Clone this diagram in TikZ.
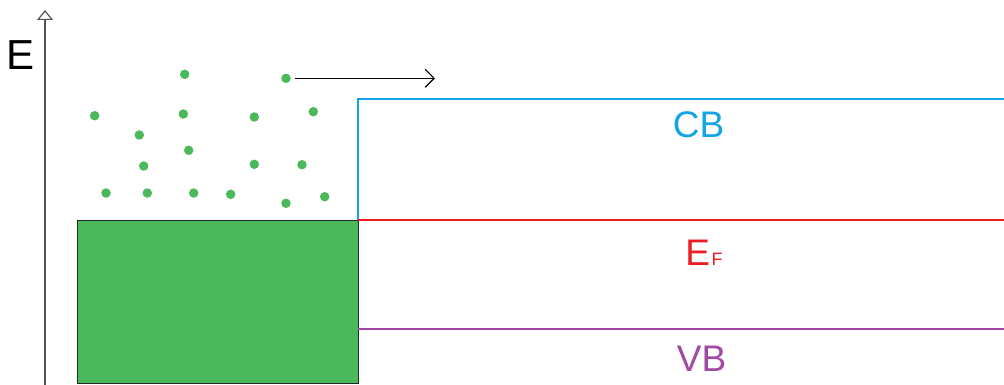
\documentclass[tikz,border=0pt]{standalone}
\usepackage{fontspec}
\setmainfont{Liberation Sans}
\definecolor{cbc}{HTML}{12A4E6}
\definecolor{efc}{HTML}{ED1C24}
\definecolor{vbc}{HTML}{A349A4}
\definecolor{grn}{HTML}{4CB85C}
\definecolor{axc}{HTML}{555555}
\usetikzlibrary{arrows.meta,positioning}
\tikzset{
  >={Straight Barb[length=9pt,width=18pt,line width=1.2pt]},
  elec/.style={circle,fill=grn,draw=none,inner sep=0pt,minimum size=9.5pt},
  band/.style={line width=1.4pt},
  lbl/.style={anchor=base,inner sep=0pt,font=\fontsize{37}{40}\selectfont},
  axis/.style={draw=axc,line width=1.6pt,-{Triangle[open,length=10pt,width=16pt,line width=1.2pt]}},
}
\begin{document}
\begin{tikzpicture}[x=1pt,y=-1pt]
\useasboundingbox (0,0) rectangle (1004,385);
% energy axis
\coordinate (a0) at (45,385);
\coordinate (a1) at (45,10);
\draw[axis] (a0) -- (a1);
\node[lbl,font=\fontsize{42}{44}\selectfont] (elab) at (20.5,70) {E};
% metal block
\node[draw=black!85,line width=1.4pt,fill=grn,minimum width=281pt,minimum height=163pt,inner sep=0pt,anchor=north west] (metal) at (77,220) {};
% bands
\coordinate (cbl) at (358,220);
\coordinate (cbt) at (358,99);
\coordinate (cbr) at (1004,99);
\coordinate (efr) at (1004,220);
\coordinate (vbl) at (358,329);
\coordinate (vbr) at (1004,329);
\draw[band,cbc] (cbl) -- (cbt) -- (cbr);
\draw[band,efc] (cbl) -- (efr);
\draw[band,vbc] (vbl) -- (vbr);
\node[lbl,text=cbc] (cb) at (698.5,138) {CB};
\node[lbl,text=efc] (ef) at (704,265) {E\kern1.5pt{\fontsize{18}{20}\selectfont F}};
\node[lbl,text=vbc] (vb) at (701.5,371) {VB};
% electrons
\foreach \n/\x/\y in {e1/184.7/74.3, e2/286/78.3, e3/94.7/115.7, e4/183.3/114,
  e5/254.3/117, e6/313.3/111.7, e7/139.3/135, e8/188.7/150.3, e9/143.7/166,
  e10/254.3/164.3, e11/302/164.7, e12/106/193, e13/147.3/193, e14/193.7/193,
  e15/230.7/194.3, e16/286/203.3, e17/324.7/196.7}
  \node[elec] (\n) at (\x,\y) {};
\coordinate (emit) at (435,78.3);
\draw[->,line width=1.4pt] (e2.east) ++(4,0) coordinate (es) (es) -- (emit);
\end{tikzpicture}
\end{document}
